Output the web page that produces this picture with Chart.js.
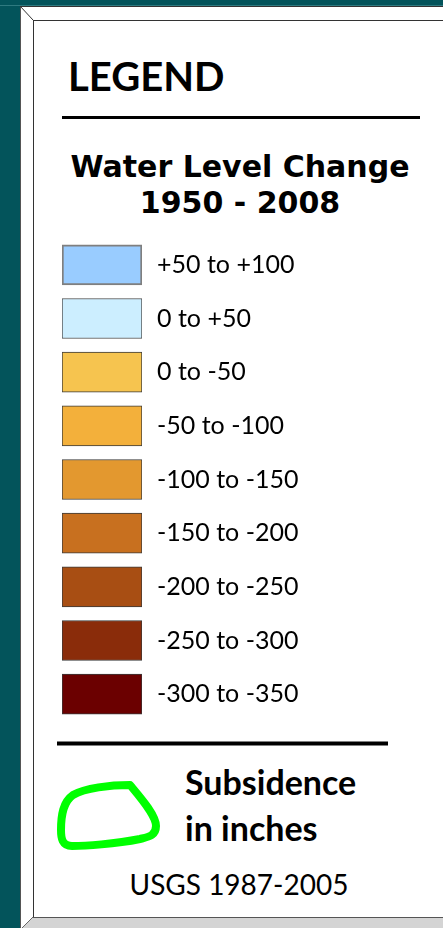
<!DOCTYPE html>
<html>
<head>
<meta charset="utf-8">
<script src="https://cdn.jsdelivr.net/npm/chart.js"></script>
<style>
  html, body { margin: 0; padding: 0; }
  body { width: 443px; height: 928px; background: #03545b; position: relative; overflow: hidden; }
  #frame { position: absolute; left: 0; top: 0; }
  .txt { position: absolute; color: #000; white-space: nowrap; }
  #legendTitle { left: 68px; top: 56px; font: bold 40px Lato; line-height: 40px; }
  #wlTitle { left: 40px; width: 400px; top: 149px; text-align: center; font: bold 30px "DejaVu Sans"; line-height: 36px; }
  #subs { left: 185px; top: 759px; font: bold 34px Lato; line-height: 46px; }
  #source { left: 40px; width: 398px; top: 869px; text-align: center; font: 28px Lato; line-height: 30px; }
  #swatches { position: absolute; left: 62px; top: 238px; }
</style>
</head>
<body>
<svg id="frame" width="443" height="928">
  <rect x="20" y="6" width="423" height="922" fill="#ffffff"/>
  <polygon points="33,917 443,917 443,928 22,928" fill="#d4d4d4"/>
  <line x1="0" y1="5.5" x2="443" y2="5.5" stroke="#2f7a80" stroke-width="1"/>
  <line x1="20.5" y1="6" x2="20.5" y2="928" stroke="#555" stroke-width="1"/>
  <line x1="20" y1="6.5" x2="443" y2="6.5" stroke="#333" stroke-width="1"/>
  <line x1="20" y1="6" x2="33" y2="20" stroke="#333" stroke-width="1"/>
  <line x1="33.5" y1="20" x2="33.5" y2="917" stroke="#333" stroke-width="1"/>
  <line x1="33" y1="20.5" x2="443" y2="20.5" stroke="#333" stroke-width="1"/>
  <line x1="33" y1="917.5" x2="443" y2="917.5" stroke="#555" stroke-width="1"/>
  <line x1="33" y1="917" x2="22" y2="928" stroke="#666" stroke-width="1"/>
  <line x1="62" y1="117.5" x2="420" y2="117.5" stroke="#000" stroke-width="3"/>
  <line x1="57" y1="743.5" x2="388" y2="743.5" stroke="#000" stroke-width="4"/>
  <path d="M 73 795 C 85 788, 110 785, 130 785 C 140 797, 156 815, 156 826 C 156 836, 148 837, 140 839 C 115 844, 85 846, 72 846 C 62 846, 61 838, 61 830 C 61 815, 63 802, 73 795 Z"
        fill="none" stroke="#00ff00" stroke-width="8" stroke-linejoin="round"/>
</svg>

<div class="txt" id="legendTitle">LEGEND</div>
<div class="txt" id="wlTitle">Water Level Change<br>1950 - 2008</div>
<canvas id="swatches" width="268" height="483"></canvas>
<div class="txt" id="subs">Subsidence<br>in inches</div>
<div class="txt" id="source">USGS 1987-2005</div>

<script>
var categories = ["+50 to +100", "0 to +50", "0 to -50", "-50 to -100", "-100 to -150",
                  "-150 to -200", "-200 to -250", "-250 to -300", "-300 to -350"];
var classColors = ["#99ccff", "#cceeff", "#f6c44f", "#f3b03b", "#e3982f",
                   "#c8701f", "#a84e13", "#8a2c0a", "#6b0000"];
var borderColors = ["#7f7f7f", "#4a4a4a", "#3a3a3a", "#3a3a3a", "#3a3a3a",
                    "#3a3a3a", "#3a3a3a", "#3a3a3a", "#3a3a3a"];
var swatchValues = [1, 1, 1, 1, 1, 1, 1, 1, 1];

var ctx = document.getElementById("swatches").getContext("2d");
var chart = new Chart(ctx, {
    type: "bar",
    data: {
        labels: categories,
        datasets: [{
            data: swatchValues,
            backgroundColor: classColors,
            borderColor: borderColors,
            borderWidth: [2, 1, 1, 1, 1, 1, 1, 1, 1],
            borderSkipped: false,
            barThickness: 40
        }]
    },
    options: {
        indexAxis: "y",
        responsive: false,
        animation: false,
        layout: { padding: 0 },
        plugins: {
            legend: { display: false },
            tooltip: { enabled: false }
        },
        scales: {
            x: { display: false, min: 0, max: 1 },
            y: {
                position: "right",
                grid: { display: false, drawTicks: false },
                border: { display: false },
                ticks: {
                    color: "#000",
                    padding: 15,
                    font: { family: "Lato", size: 25 }
                },
                afterFit: function (scale) {
                    scale.width = 188;
                    scale.paddingTop = 0;
                    scale.paddingBottom = 0;
                }
            }
        }
    }
});
</script>
</body>
</html>
